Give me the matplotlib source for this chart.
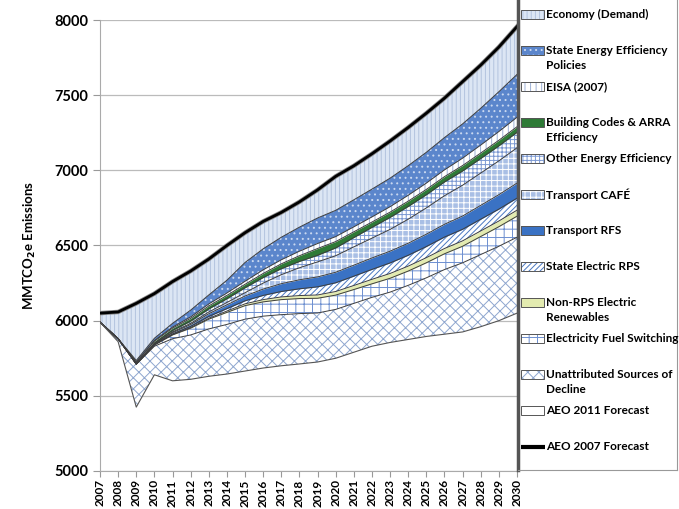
import matplotlib
matplotlib.use("Agg")
import matplotlib.pyplot as plt
import numpy as np
from matplotlib.patches import Rectangle

plt.rcParams['font.family'] = ['Lato', 'DejaVu Sans']
plt.rcParams['font.weight'] = 'bold'
plt.rcParams['hatch.linewidth'] = 0.7

years = list(range(2007, 2031))

# forecasts (MMTCO2e)
aeo2007 = [6050, 6058, 6115, 6180, 6260, 6330, 6410, 6500, 6585, 6660, 6720, 6790,
           6870, 6960, 7030, 7110, 7195, 7285, 7380, 7480, 7590, 7700, 7820, 7956]
aeo2011 = [5990, 5860, 5425, 5640, 5600, 5610, 5630, 5645, 5665, 5685, 5700, 5712,
           5725, 5750, 5790, 5830, 5855, 5875, 5895, 5910, 5925, 5960, 6000, 6050]

# wedges, stacked from the AEO 2011 line upward
unattributed = [0, 20, 285, 190, 280, 295, 315, 330, 345, 345, 340, 335,
                326, 325, 325, 325, 335, 360, 390, 430, 460, 480, 495, 505]
fuel_switching = [0, 0, 2, 8, 25, 45, 65, 80, 90, 95, 100, 100,
                  98, 95, 92, 90, 92, 95, 100, 105, 110, 120, 130, 140]
non_rps = [0, 0, 0, 1, 2, 4, 6, 9, 12, 15, 18, 20,
           22, 24, 27, 30, 32, 33, 34, 35, 36, 37, 38, 40]
state_rps = [0, 0, 0, 2, 5, 8, 12, 16, 20, 28, 36, 45,
             54, 58, 62, 66, 70, 72, 74, 76, 77, 78, 79, 80]
transport_rfs = [0, 0, 0, 3, 8, 12, 18, 25, 32, 42, 52, 60,
                 66, 70, 73, 76, 78, 80, 82, 85, 88, 92, 96, 100]
transport_cafe = [0, 0, 0, 2, 5, 8, 12, 16, 22, 40, 60, 80,
                  100, 110, 122, 132, 145, 160, 175, 190, 205, 215, 225, 235]
other_ee = [0, 0, 0, 5, 10, 15, 20, 25, 33, 37, 40, 42,
            44, 52, 62, 72, 80, 85, 88, 92, 95, 97, 100, 103]
building_codes = [0, 0, 8, 12, 15, 18, 20, 22, 23, 27, 32, 38,
                  45, 42, 38, 35, 35, 35, 35, 35, 36, 36, 37, 37]
eisa = [0, 0, 5, 5, 7, 10, 13, 16, 20, 24, 27, 30,
        33, 33, 33, 34, 36, 39, 42, 45, 49, 53, 58, 63]
state_ee = [0, 0, 10, 15, 25, 45, 60, 85, 125, 140, 150, 160,
            170, 175, 180, 185, 190, 197, 205, 215, 228, 245, 265, 285]

wedges = [unattributed, fuel_switching, non_rps, state_rps, transport_rfs,
          transport_cafe, other_ee, building_codes, eisa, state_ee]
# economy (demand) is what is left up to the AEO 2007 line
economy = list(np.array(aeo2007) - np.array(aeo2011) - np.sum(wedges, axis=0))
wedges.append(economy)

labels = ['Unattributed Sources of\nDecline', 'Electricity Fuel Switching',
          'Non-RPS Electric\nRenewables', 'State Electric RPS', 'Transport RFS',
          'Transport CAFÉ', 'Other Energy Efficiency',
          'Building Codes & ARRA\nEfficiency', 'EISA (2007)',
          'State Energy Efficiency\nPolicies', 'Economy (Demand)']
# face colour, hatch, hatch colour
styles = [('white', 'xxx', '#8ea6cf'),
          ('white', '++', '#6d8fd0'),
          ('#e3ebb0', None, None),
          ('white', '//////', '#4a78c2'),
          ('#3a72c4', None, None),
          ('#a9bfe5', '+++', 'white'),
          ('white', '++++', '#7b98d2'),
          ('#2e7a36', None, None),
          ('white', '|||', '#9fb2d6'),
          ('#5b86cc', '...', '#c9d8f0'),
          ('#dce6f4', '||||', '#b3c3de')]

fig = plt.figure(figsize=(6.79, 5.09), dpi=100)
ax = fig.add_axes([100 / 679, 1 - 471 / 509, 417 / 679, 451 / 509])

base = np.array(aeo2011, dtype=float)
for vals, (fc, h, hc) in zip(wedges, styles):
    top = base + np.array(vals)
    ax.fill_between(years, base, top, facecolor=fc, hatch=h,
                    edgecolor=hc if hc else fc, linewidth=0, zorder=2)
    ax.plot(years, top, color='#3d3d3d', lw=0.7, zorder=3)
    base = top

ax.plot(years, aeo2011, color='#555555', lw=0.8, zorder=3)
ax.plot(years, aeo2007, color='#888888', lw=3.2, zorder=4)
ax.plot(years, aeo2007, color='black', lw=2.0, zorder=5)

ax.set_xlim(2007, 2030)
ax.set_ylim(5000, 8000)
ax.set_yticks(range(5000, 8001, 500))
ax.set_xticks(years)
ax.set_xticklabels([str(y) for y in years], rotation=90, fontsize=8.5)
ax.tick_params(axis='y', labelsize=10.5, length=5, color='#999999')
ax.tick_params(axis='x', length=4, color='#999999', pad=2)
ax.grid(axis='y', color='#bbbbbb', lw=0.9, zorder=0)
for s in ['top', 'right']:
    ax.spines[s].set_visible(False)
ax.spines['left'].set_color('#aaaaaa')
ax.spines['bottom'].set_color('#aaaaaa')
ax.set_ylabel(r'MMTCO$_\mathbf{2}$e Emissions', fontsize=9.5, fontweight='bold',
              labelpad=12)

# legend panel on the right
lax = fig.add_axes([518 / 679, 1 - 470 / 509, 159 / 679, 470 / 509 + 0.02])
lax.set_xlim(518, 677)
lax.set_ylim(470, -10)
lax.set_xticks([])
lax.set_yticks([])
lax.spines['left'].set_linewidth(2.5)
lax.spines['left'].set_color('#555555')
lax.spines['right'].set_color('#999999')
lax.spines['top'].set_visible(False)
lax.spines['bottom'].set_color('#999999')

entries = list(zip(labels, styles))[::-1]
entries += [('AEO 2011 Forecast', ('white', None, None)), ('AEO 2007 Forecast', None)]
for i, (lab, st) in enumerate(entries):
    yc = 15 + i * 36
    if st is None:
        lax.plot([521, 545], [yc, yc], color='black', lw=3, solid_capstyle='butt')
    else:
        fc, h, hc = st
        lax.add_patch(Rectangle((521, yc - 4.5), 23, 9, facecolor=fc, hatch=h,
                                edgecolor=hc if hc else '#555555', lw=0))
        lax.add_patch(Rectangle((521, yc - 4.5), 23, 9, fill=False,
                                edgecolor='#555555', lw=0.7))
    lax.text(546, yc - 6, lab, fontsize=8.5, va='top', ha='left',
             linespacing=1.45)

fig.savefig('out.png', dpi=100)
